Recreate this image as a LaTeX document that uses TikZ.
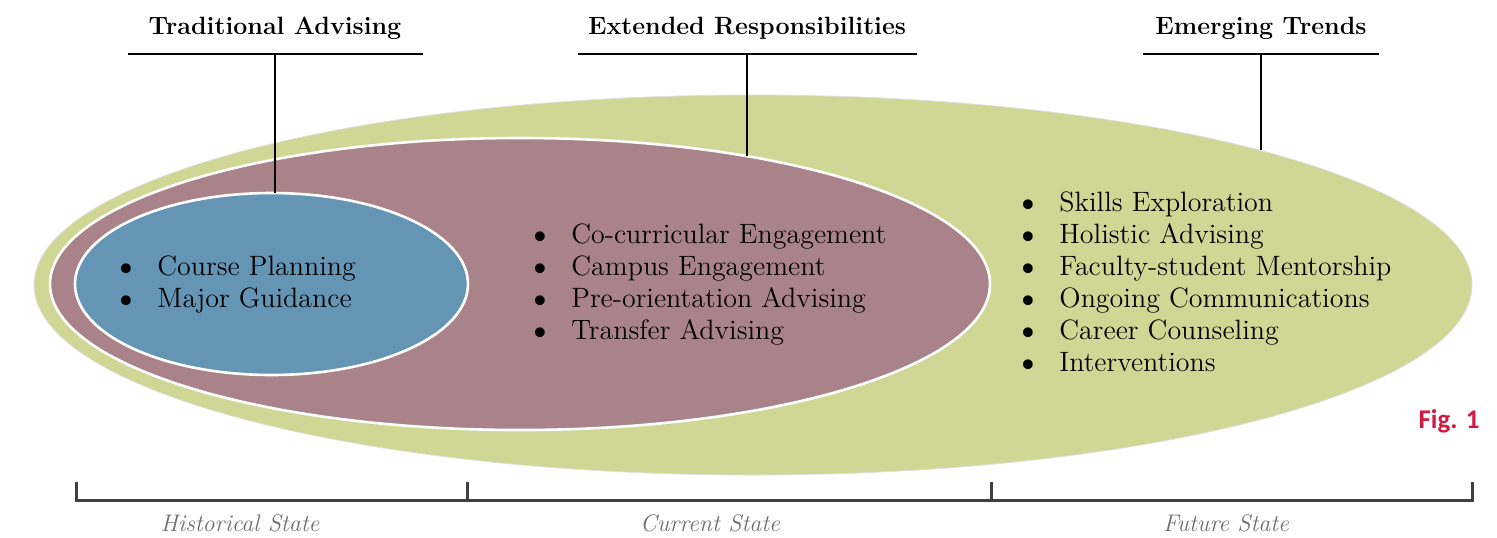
\documentclass[tikz,border=0pt]{standalone}
\usepackage{fontspec}
\newfontfamily\figfont{Carlito}
\usetikzlibrary{shapes.geometric}
\definecolor{lgreen}{RGB}{208,215,148}
\definecolor{mauve}{RGB}{169,131,137}
\definecolor{sblue}{RGB}{101,149,181}
\definecolor{figred}{RGB}{210,25,65}
\definecolor{brk}{RGB}{64,64,64}
\definecolor{lblgray}{RGB}{110,110,110}
\tikzset{
  oval/.style={ellipse, inner sep=0pt},
  listtext/.style={anchor=west, inner sep=0pt, font=\fontsize{14}{16}\selectfont, align=left},
  titletext/.style={inner sep=0pt, font=\fontsize{12.5}{15}\bfseries\selectfont},
  statetext/.style={inner sep=0pt, text=lblgray, font=\fontsize{12}{14}\itshape\selectfont},
  titleline/.style={line width=0.7pt, black},
  bracket/.style={line width=1.5pt, brk},
}
\newcommand{\bul}{\makebox[18.5pt][l]{\hspace{-4pt}\raisebox{-0.8pt}{\scalebox{1.3}{\textbullet}}}}
\begin{document}
\begin{tikzpicture}[x=0.5pt,y=-0.5pt]
\useasboundingbox (0,0) rectangle (1497,537);
% ellipses
\node[oval, fill=lgreen, draw=gray!25, line width=0.4pt, minimum width=719pt, minimum height=190pt] (green) at (753,285) {};
\node[oval, fill=mauve, draw=white, line width=1.3pt, minimum width=470pt, minimum height=146pt] (mauve) at (520,284) {};
\node[oval, fill=sblue, draw=white, line width=1.3pt, minimum width=196.5pt, minimum height=91pt] (blue) at (271.5,284) {};
% lists
\node[listtext] (l1) at (120,285.5) {\begin{tabular}{@{}l@{}}\bul Course Planning\\ \bul Major Guidance\end{tabular}};
\node[listtext] (l2) at (534,285.5) {\begin{tabular}{@{}l@{}}\bul Co-curricular Engagement\\ \bul Campus Engagement\\ \bul Pre-orientation Advising\\ \bul Transfer Advising\end{tabular}};
\node[listtext] (l3) at (1022,285.5) {\begin{tabular}{@{}l@{}}\bul Skills Exploration\\ \bul Holistic Advising\\ \bul Faculty-student Mentorship\\ \bul Ongoing Communications\\ \bul Career Counseling\\ \bul Interventions\end{tabular}};
% titles
\node[titletext] (t1) at (275,28) {Traditional Advising};
\node[titletext] (t2) at (747,28) {Extended Responsibilities};
\node[titletext] (t3) at (1261,28) {Emerging Trends};
\coordinate (b1l) at (128,54); \coordinate (b1r) at (423,54); \coordinate (b1m) at (275,54);
\coordinate (b2l) at (578,54); \coordinate (b2r) at (917,54); \coordinate (b2m) at (747,54);
\coordinate (b3l) at (1143,54); \coordinate (b3r) at (1379,54); \coordinate (b3m) at (1261,54);
\coordinate (e1) at (275,193);
\coordinate (e2) at (747,156);
\coordinate (e3) at (1261,150);
\draw[titleline] (b1l) -- (b1r); \draw[titleline] (b1m) -- (e1);
\draw[titleline] (b2l) -- (b2r); \draw[titleline] (b2m) -- (e2);
\draw[titleline] (b3l) -- (b3r); \draw[titleline] (b3m) -- (e3);
% fig label
\node[inner sep=0pt, text=figred, font=\figfont\fontsize{13.5}{16}\bfseries\selectfont] (fig) at (1449,421) {Fig. 1};
% bracket
\coordinate (k1t) at (76,482); \coordinate (k1b) at (76,500);
\coordinate (k2t) at (467,482); \coordinate (k2b) at (467,500);
\coordinate (k3t) at (991,482); \coordinate (k3b) at (991,500);
\coordinate (k4t) at (1472,482); \coordinate (k4b) at (1472,500);
\draw[bracket] (k1t) -- (k1b) -- (k4b) -- (k4t);
\draw[bracket] (k2t) -- (k2b);
\draw[bracket] (k3t) -- (k3b);
\node[statetext] (s1) at (240,523) {Historical State};
\node[statetext] (s2) at (710,523) {Current State};
\node[statetext] (s3) at (1226,523) {Future State};
\end{tikzpicture}
\end{document}
